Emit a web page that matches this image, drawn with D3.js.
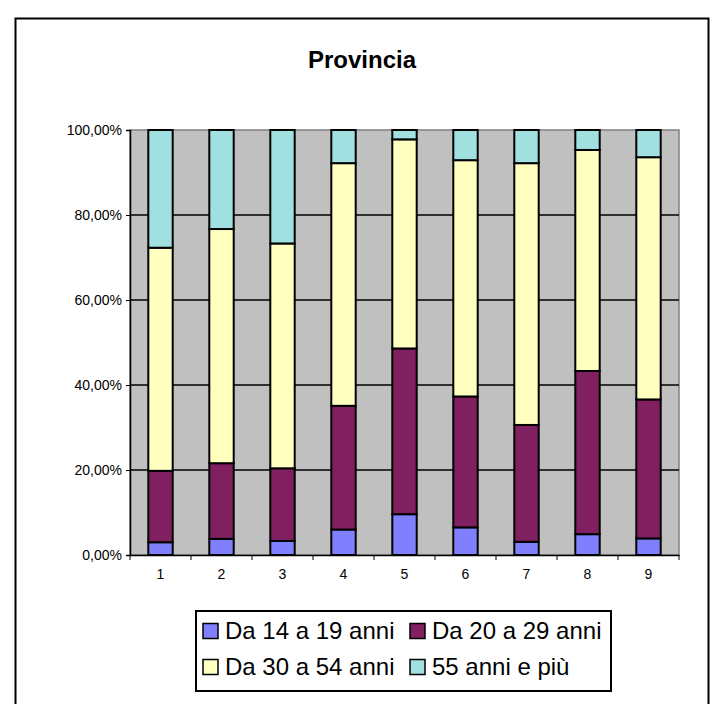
<!DOCTYPE html>
<html>
<head>
<meta charset="utf-8">
<script src="https://cdn.jsdelivr.net/npm/d3@7"></script>
<style>
  html, body { margin: 0; padding: 0; background: #fff; }
  svg { display: block; font-family: Arial, "Liberation Sans", sans-serif; }
</style>
</head>
<body>
<svg id="chart" width="710" height="704"></svg>
<script>
const categories = ["1", "2", "3", "4", "5", "6", "7", "8", "9"];
const seriesNames = ["Da 14 a 19 anni", "Da 20 a 29 anni", "Da 30 a 54 anni", "55 anni e più"];
const seriesColors = ["#8080FF", "#802060", "#FFFFC0", "#A0E0E0"];
const da14a19 = [3.0, 3.8, 3.3, 6.0, 9.6, 6.5, 3.1, 4.9, 3.9];
const da20a29 = [16.8, 17.8, 17.1, 29.1, 39.0, 30.8, 27.5, 38.4, 32.7];
const da30a54 = [52.5, 55.1, 52.9, 57.1, 49.2, 55.6, 61.6, 52.0, 57.0];
const over55 = [27.7, 23.3, 26.7, 7.8, 2.2, 7.1, 7.8, 4.7, 6.4];
const yTicks = [0, 20, 40, 60, 80, 100];
const yTickLabels = ["0,00%", "20,00%", "40,00%", "60,00%", "80,00%", "100,00%"];
const title = "Provincia";

const FONT = "Arial, 'Liberation Sans', sans-serif";
const svg = d3.select("#chart");
const plot = { left: 130, top: 130, right: 679, bottom: 555 };

// outer chart border
svg.append("rect").attr("x", 15.5).attr("y", 18.5).attr("width", 693).attr("height", 700)
  .attr("fill", "#fff").attr("stroke", "#000").attr("stroke-width", 2);

svg.append("text").attr("x", 362).attr("y", 68).attr("text-anchor", "middle")
  .attr("font-size", 24).attr("font-weight", "bold").text(title);

const x = d3.scaleBand().domain(categories).range([plot.left, plot.right]).paddingInner(0.6).paddingOuter(0.3);
const xb = d3.scaleBand().domain(categories).range([plot.left, plot.right]);
const y = d3.scaleLinear().domain([0, 100]).range([plot.bottom, plot.top]);

// plot area background
svg.append("rect").attr("x", plot.left).attr("y", plot.top)
  .attr("width", plot.right - plot.left).attr("height", plot.bottom - plot.top)
  .attr("fill", "#C0C0C0").attr("stroke", "#808080").attr("stroke-width", 1.5);

// gridlines
svg.append("g").selectAll("line").data(yTicks.filter(d => d > 0 && d < 100)).join("line")
  .attr("x1", plot.left).attr("x2", plot.right)
  .attr("y1", d => y(d)).attr("y2", d => y(d))
  .attr("stroke", "#000").attr("stroke-width", 1.5);

// stacked data
const rows = categories.map((c, i) => ({ cat: c, s0: da14a19[i], s1: da20a29[i], s2: da30a54[i], s3: over55[i] }));
const stacked = d3.stack().keys(["s0", "s1", "s2", "s3"])(rows);

svg.append("g").selectAll("g").data(stacked).join("g")
  .attr("fill", (d, i) => seriesColors[i])
  .selectAll("rect").data(d => d).join("rect")
  .attr("x", d => x(d.data.cat))
  .attr("width", x.bandwidth())
  .attr("y", d => y(d[1]))
  .attr("height", d => y(d[0]) - y(d[1]))
  .attr("stroke", "#000").attr("stroke-width", 2);

// y axis
const yAxis = d3.axisLeft(y).tickValues(yTicks).tickSize(4).tickPadding(4)
  .tickFormat((d, i) => yTickLabels[i]);
const yg = svg.append("g").attr("transform", `translate(${plot.left},0)`).call(yAxis);
yg.select(".domain").attr("stroke", "#000").attr("stroke-width", 1.5);
yg.selectAll(".tick line").attr("stroke", "#000");
yg.selectAll("text").attr("font-size", 14).attr("font-family", FONT).attr("fill", "#000");

// x axis
const xAxis = d3.axisBottom(xb).tickSize(0).tickPadding(14);
const xg = svg.append("g").attr("transform", `translate(0,${plot.bottom})`).call(xAxis);
xg.select(".domain").attr("stroke", "#000").attr("stroke-width", 1.5);
xg.selectAll("text").attr("font-size", 14).attr("font-family", FONT).attr("fill", "#000");
const bounds = categories.map(c => xb(c)).concat([plot.right]);
xg.append("g").selectAll("line").data(bounds).join("line")
  .attr("x1", d => d).attr("x2", d => d).attr("y1", 0).attr("y2", 5)
  .attr("stroke", "#000").attr("stroke-width", 1);

// legend
const leg = svg.append("g");
leg.append("rect").attr("x", 196).attr("y", 611).attr("width", 415).attr("height", 80)
  .attr("fill", "#fff").attr("stroke", "#000").attr("stroke-width", 2);
const legPos = [[203, 639], [410, 639], [203, 675], [410, 675]];
seriesNames.forEach((name, i) => {
  const [lx, ly] = legPos[i];
  leg.append("rect").attr("x", lx).attr("y", ly - 15.5).attr("width", 15).attr("height", 15)
    .attr("fill", seriesColors[i]).attr("stroke", "#000").attr("stroke-width", 1.5);
  leg.append("text").attr("x", lx + 22).attr("y", ly).attr("font-size", 24).text(name);
});
</script>
</body>
</html>
